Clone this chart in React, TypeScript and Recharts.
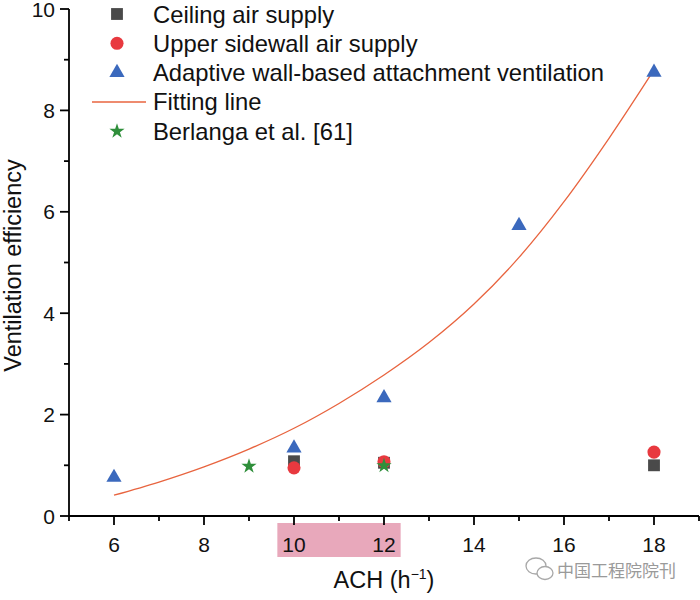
import React from 'react';
import {
  ComposedChart,
  Scatter,
  Line,
  XAxis,
  YAxis,
  Legend,
  ReferenceArea,
  Label,
  Symbols,
} from 'recharts';

// ---- data ----
const ceilingX = [10, 12, 18];
const ceilingY = [1.08, 1.05, 1.0];
const sidewallX = [10, 12, 18];
const sidewallY = [0.95, 1.07, 1.26];
const adaptiveX = [6, 10, 12, 15, 18];
const adaptiveY = [0.76, 1.34, 2.33, 5.73, 8.75];
const berlangaX = [9, 12];
const berlangaY = [0.98, 0.99];
const fitX = [6, 7, 8, 9, 10, 11, 12, 13, 14, 15, 16, 17, 18];
const fitY = [0.41, 0.67, 0.97, 1.32, 1.73, 2.22, 2.78, 3.42, 4.18, 5.1, 6.2, 7.45, 8.8];
const xTicks = [5, 6, 7, 8, 9, 10, 11, 12, 13, 14, 15, 16, 17, 18, 19];
const yTicks = [0, 1, 2, 3, 4, 5, 6, 7, 8, 9, 10];
const highlightRange = [9.63, 12.37];
const seriesNames = [
  'Ceiling air supply',
  'Upper sidewall air supply',
  'Adaptive wall-based attachment ventilation',
  'Fitting line',
  'Berlanga et al. [61]',
];
const xLabel = 'ACH (h';
const yLabel = 'Ventilation efficiency';
const watermark = '中国工程院院刊';

const zip = (xs: number[], ys: number[]) => xs.map((x, i) => ({ x, y: ys[i] }));
const ceilingData = zip(ceilingX, ceilingY);
const sidewallData = zip(sidewallX, sidewallY);
const adaptiveData = zip(adaptiveX, adaptiveY);
const berlangaData = zip(berlangaX, berlangaY);
const fitData = zip(fitX, fitY);

const FONT = '"Liberation Sans", Arial, Helvetica, sans-serif';
const C_SQ = '#4a4a4a';
const C_CI = '#e8393f';
const C_TR = '#3b69bd';
const C_LN = '#e8643f';
const C_ST = '#2f8f3b';

const markers = [
  { type: 'square', color: C_SQ, size: 140 },
  { type: 'circle', color: C_CI, size: 135 },
  { type: 'triangle', color: C_TR, size: 100 },
  { type: 'line', color: C_LN, size: 0 },
  { type: 'star', color: C_ST, size: 72 },
];

const makeShape = (idx: number) => (props: any) => {
  const m = markers[idx];
  if (props.cx == null || props.cy == null) return <g />;
  return <Symbols cx={props.cx} cy={props.cy} type={m.type as any} size={m.size} fill={m.color} />;
};

const XTick = (props: any) => {
  const { x, y, payload } = props;
  const major = payload.value % 2 === 0;
  return (
    <g>
      <line x1={x} x2={x} y1={y} y2={y + (major ? 9 : 5)} stroke="#000" strokeWidth={1.8} />
      {major && (
        <text x={x} y={y + 21} dy="0.71em" textAnchor="middle" fontSize={21} fontFamily={FONT} fill="#111">
          {payload.value}
        </text>
      )}
    </g>
  );
};

const YTick = (props: any) => {
  const { x, y, payload } = props;
  const major = payload.value % 2 === 0;
  return (
    <g>
      <line x1={x} x2={x - (major ? 9 : 5)} y1={y} y2={y} stroke="#000" strokeWidth={1.8} />
      {major && (
        <text x={x - 14} y={y} dy="0.36em" textAnchor="end" fontSize={21} fontFamily={FONT} fill="#111">
          {payload.value}
        </text>
      )}
    </g>
  );
};

const LegendContent = () => (
  <svg width={640} height={150} style={{ display: 'block' }}>
    {seriesNames.map((name, i) => {
      const cy = 14 + i * 29.3;
      const m = markers[i];
      return (
        <g key={name}>
          {m.type === 'line' ? (
            <line x1={92} x2={146} y1={cy} y2={cy} stroke={m.color} strokeWidth={1.5} />
          ) : (
            <Symbols cx={117} cy={cy} type={m.type as any} size={m.size} fill={m.color} />
          )}
          <text x={153} y={cy} dy="0.36em" fontSize={23.8} fontFamily={FONT} fill="#111">
            {name}
          </text>
        </g>
      );
    })}
  </svg>
);

const XLabelContent = (props: any) => {
  const vb = props.viewBox || {};
  const cx = vb.x + vb.width / 2;
  const y = 588;
  return (
    <text x={cx} y={y} textAnchor="middle" fontSize={23.5} fontFamily={FONT} fill="#111">
      {xLabel}
      <tspan dy={-9} fontSize={14}>−1</tspan>
      <tspan dy={9}>)</tspan>
    </text>
  );
};

const YLabelContent = (props: any) => {
  const vb = props.viewBox || {};
  const cy = vb.y + vb.height / 2 + 3;
  return (
    <text
      transform={`translate(21, ${cy}) rotate(-90)`}
      textAnchor="middle"
      fontSize={23.5}
      fontFamily={FONT}
      fill="#111"
    >
      {yLabel}
    </text>
  );
};

export default function App() {
  return (
    <div style={{ position: 'absolute', left: 0, top: 0, width: 700, height: 600, background: '#fff', fontFamily: FONT }}>
      <ComposedChart width={700} height={600} margin={{ top: 9, right: 1, left: 0, bottom: 0 }}>
        <ReferenceArea
          x1={highlightRange[0]}
          x2={highlightRange[1]}
          y1={-0.14}
          y2={-0.81}
          ifOverflow="visible"
          fill="#e8a8bb"
          fillOpacity={1}
          stroke="none"
        />
        <XAxis
          type="number"
          dataKey="x"
          domain={[5, 19]}
          ticks={xTicks}
          interval={0}
          height={84}
          tickSize={0}
          tickMargin={0}
          tickLine={false}
          tick={<XTick />}
          axisLine={{ stroke: '#000', strokeWidth: 1.8 }}
          allowDataOverflow
        >
          <Label content={<XLabelContent />} />
        </XAxis>
        <YAxis
          type="number"
          dataKey="y"
          domain={[0, 10]}
          ticks={yTicks}
          interval={0}
          width={69}
          tickSize={0}
          tickMargin={0}
          tickLine={false}
          tick={<YTick />}
          axisLine={{ stroke: '#000', strokeWidth: 1.8 }}
          allowDataOverflow
        >
          <Label content={<YLabelContent />} />
        </YAxis>
        <Legend
          layout="vertical"
          align="center"
          verticalAlign="middle"
          content={<LegendContent />}
          wrapperStyle={{ position: 'absolute', left: 0, top: 0, width: 640, height: 150 }}
        />
        <Scatter name={seriesNames[0]} data={ceilingData} shape={makeShape(0)} isAnimationActive={false} legendType="square" />
        <Scatter name={seriesNames[1]} data={sidewallData} shape={makeShape(1)} isAnimationActive={false} legendType="circle" />
        <Scatter name={seriesNames[2]} data={adaptiveData} shape={makeShape(2)} isAnimationActive={false} legendType="triangle" />
        <Line
          name={seriesNames[3]}
          data={fitData}
          dataKey="y"
          type="monotone"
          stroke={C_LN}
          strokeWidth={1.3}
          dot={false}
          activeDot={false}
          isAnimationActive={false}
          legendType="line"
        />
        <Scatter name={seriesNames[4]} data={berlangaData} shape={makeShape(4)} isAnimationActive={false} legendType="star" />
      </ComposedChart>
      <div style={{ position: 'absolute', left: 524, top: 556, width: 170, height: 30 }}>
        <svg width={34} height={28} style={{ position: 'absolute', left: 0, top: 0 }}>
          <ellipse cx={12} cy={10} rx={10} ry={8} fill="#fff" stroke="#a8a8a8" strokeWidth={1.3} />
          <ellipse cx={21} cy={17} rx={8} ry={6.5} fill="#fff" stroke="#a8a8a8" strokeWidth={1.3} />
        </svg>
        <span
          style={{
            position: 'absolute',
            left: 33,
            top: 3,
            fontFamily: '"Noto Sans CJK SC", sans-serif',
            fontSize: 17,
            color: '#9a9a9a',
            whiteSpace: 'nowrap',
            lineHeight: '22px',
          }}
        >
          {watermark}
        </span>
      </div>
    </div>
  );
}
